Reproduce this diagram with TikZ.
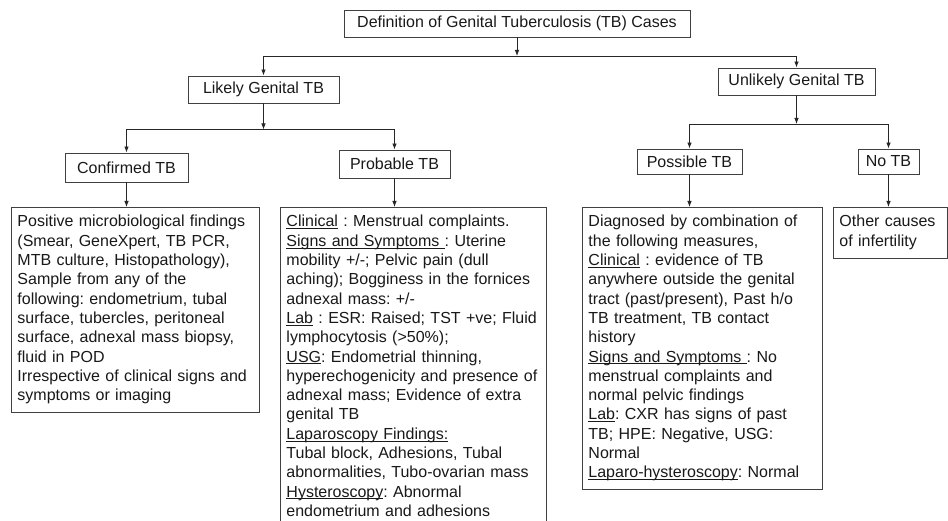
\documentclass[tikz,border=0pt]{standalone}
\usepackage{fontspec}
\setmainfont{Liberation Sans}
\usetikzlibrary{arrows.meta}
% thin underline sitting just below the baseline
\newsavebox\ulbox
\newcommand{\undl}[1]{\leavevmode\sbox\ulbox{#1}\rlap{\rule[-2.2pt]{\wd\ulbox}{0.9pt}}\usebox\ulbox}

\begin{document}
\frenchspacing
\begin{tikzpicture}[x=1pt,y=-1pt,
  font=\fontsize{16}{19.3}\selectfont\frenchspacing,
  lbl/.style={draw=black!75, line width=0.9pt, inner sep=0pt, align=center, text=black!90},
  desc/.style={draw=black!75, line width=0.9pt, anchor=north west, inner xsep=6pt, inner ysep=6pt,
    align=left, text=black!90, execute at begin node=\strut, execute at end node=\strut},
  arr/.style={draw=black!85, line width=0.8pt, -{Latex[length=6pt,width=4.5pt]}}]

\clip (0,0) rectangle (948,521);
\fill[white] (0,0) rectangle (948,521);

% category boxes
\node[lbl, minimum width=346pt, minimum height=27pt] (top) at (517,23.5) {Definition of Genital Tuberculosis (TB) Cases};
\node[lbl, minimum width=151pt, minimum height=27pt] (likely) at (263.5,89.5) {Likely Genital TB};
\node[lbl, minimum width=157pt, minimum height=27pt] (unlikely) at (796.5,81.5) {Unlikely Genital TB};
\node[lbl, minimum width=123pt, minimum height=29pt] (confirmed) at (126.5,167.5) {Confirmed TB};
\node[lbl, minimum width=111pt, minimum height=28pt] (probable) at (394.5,164) {Probable TB};
\node[lbl, minimum width=105pt, minimum height=25pt] (possible) at (689.5,161.5) {Possible TB};
\node[lbl, minimum width=61pt, minimum height=25pt] (notb) at (888.5,161.5) {No TB};

% description boxes
\node[desc, text width=236pt] (confdesc) at (11,207) {Positive microbiological findings\\
(Smear, GeneXpert, TB PCR,\\
MTB culture, Histopathology),\\
Sample from any of the\\
following: endometrium, tubal\\
surface, tubercles, peritoneal\\
surface, adnexal mass biopsy,\\
fluid in POD\\
Irrespective of clinical signs and\\
symptoms or imaging};

\node[desc, text width=254pt] (probdesc) at (280,207) {\undl{Clinical} : Menstrual complaints.\\
\undl{Signs and Symptoms\ }: Uterine\\
mobility +/-; Pelvic pain (dull\\
aching); Bogginess in the fornices\\
adnexal mass: +/-\\
\undl{Lab} : ESR: Raised; TST +ve; Fluid\\
lymphocytosis (>50\%);\\
\undl{USG}: Endometrial thinning,\\
hyperechogenicity and presence of\\
adnexal mass; Evidence of extra\\
genital TB\\
\undl{Laparoscopy Findings:}\\
Tubal block, Adhesions, Tubal\\
abnormalities, Tubo-ovarian mass\\
\undl{Hysteroscopy}: Abnormal\\
endometrium and adhesions};

\node[desc, text width=228pt] (possdesc) at (582,207) {Diagnosed by combination of\\
the following measures,\\
\undl{Clinical} : evidence of TB\\
anywhere outside the genital\\
tract (past/present), Past h/o\\
TB treatment, TB contact\\
history\\
\undl{Signs and Symptoms\ }: No\\
menstrual complaints and\\
normal pelvic findings\\
\undl{Lab}: CXR has signs of past\\
TB; HPE: Negative, USG:\\
Normal\\
\undl{Laparo-hysteroscopy}: Normal};

\node[desc, text width=102pt] (notbdesc) at (833,207) {Other causes\\
of infertility};

% branching points
\coordinate (j1) at (top.south |- 0,56);
\coordinate (j2) at (likely.south |- 0,129.5);
\coordinate (j3) at (unlikely.south |- 0,124);

% connectors
\draw[arr] (top.south) -- (j1);
\draw[arr] (j1) -| (likely.north);
\draw[arr] (j1) -| (unlikely.north);

\draw[arr] (likely.south) -- (j2);
\draw[arr] (j2) -| (confirmed.north);
\draw[arr] (j2) -| (probable.north);

\draw[arr] (unlikely.south) -- (j3);
\draw[arr] (j3) -| (possible.north);
\draw[arr] (j3) -| (notb.north);

\draw[arr] (confirmed.south) -- (confirmed.south |- confdesc.north);
\draw[arr] (probable.south) -- (probable.south |- probdesc.north);
\draw[arr] (possible.south) -- (possible.south |- possdesc.north);
\draw[arr] (notb.south) -- (notb.south |- notbdesc.north);
\end{tikzpicture}
\end{document}
